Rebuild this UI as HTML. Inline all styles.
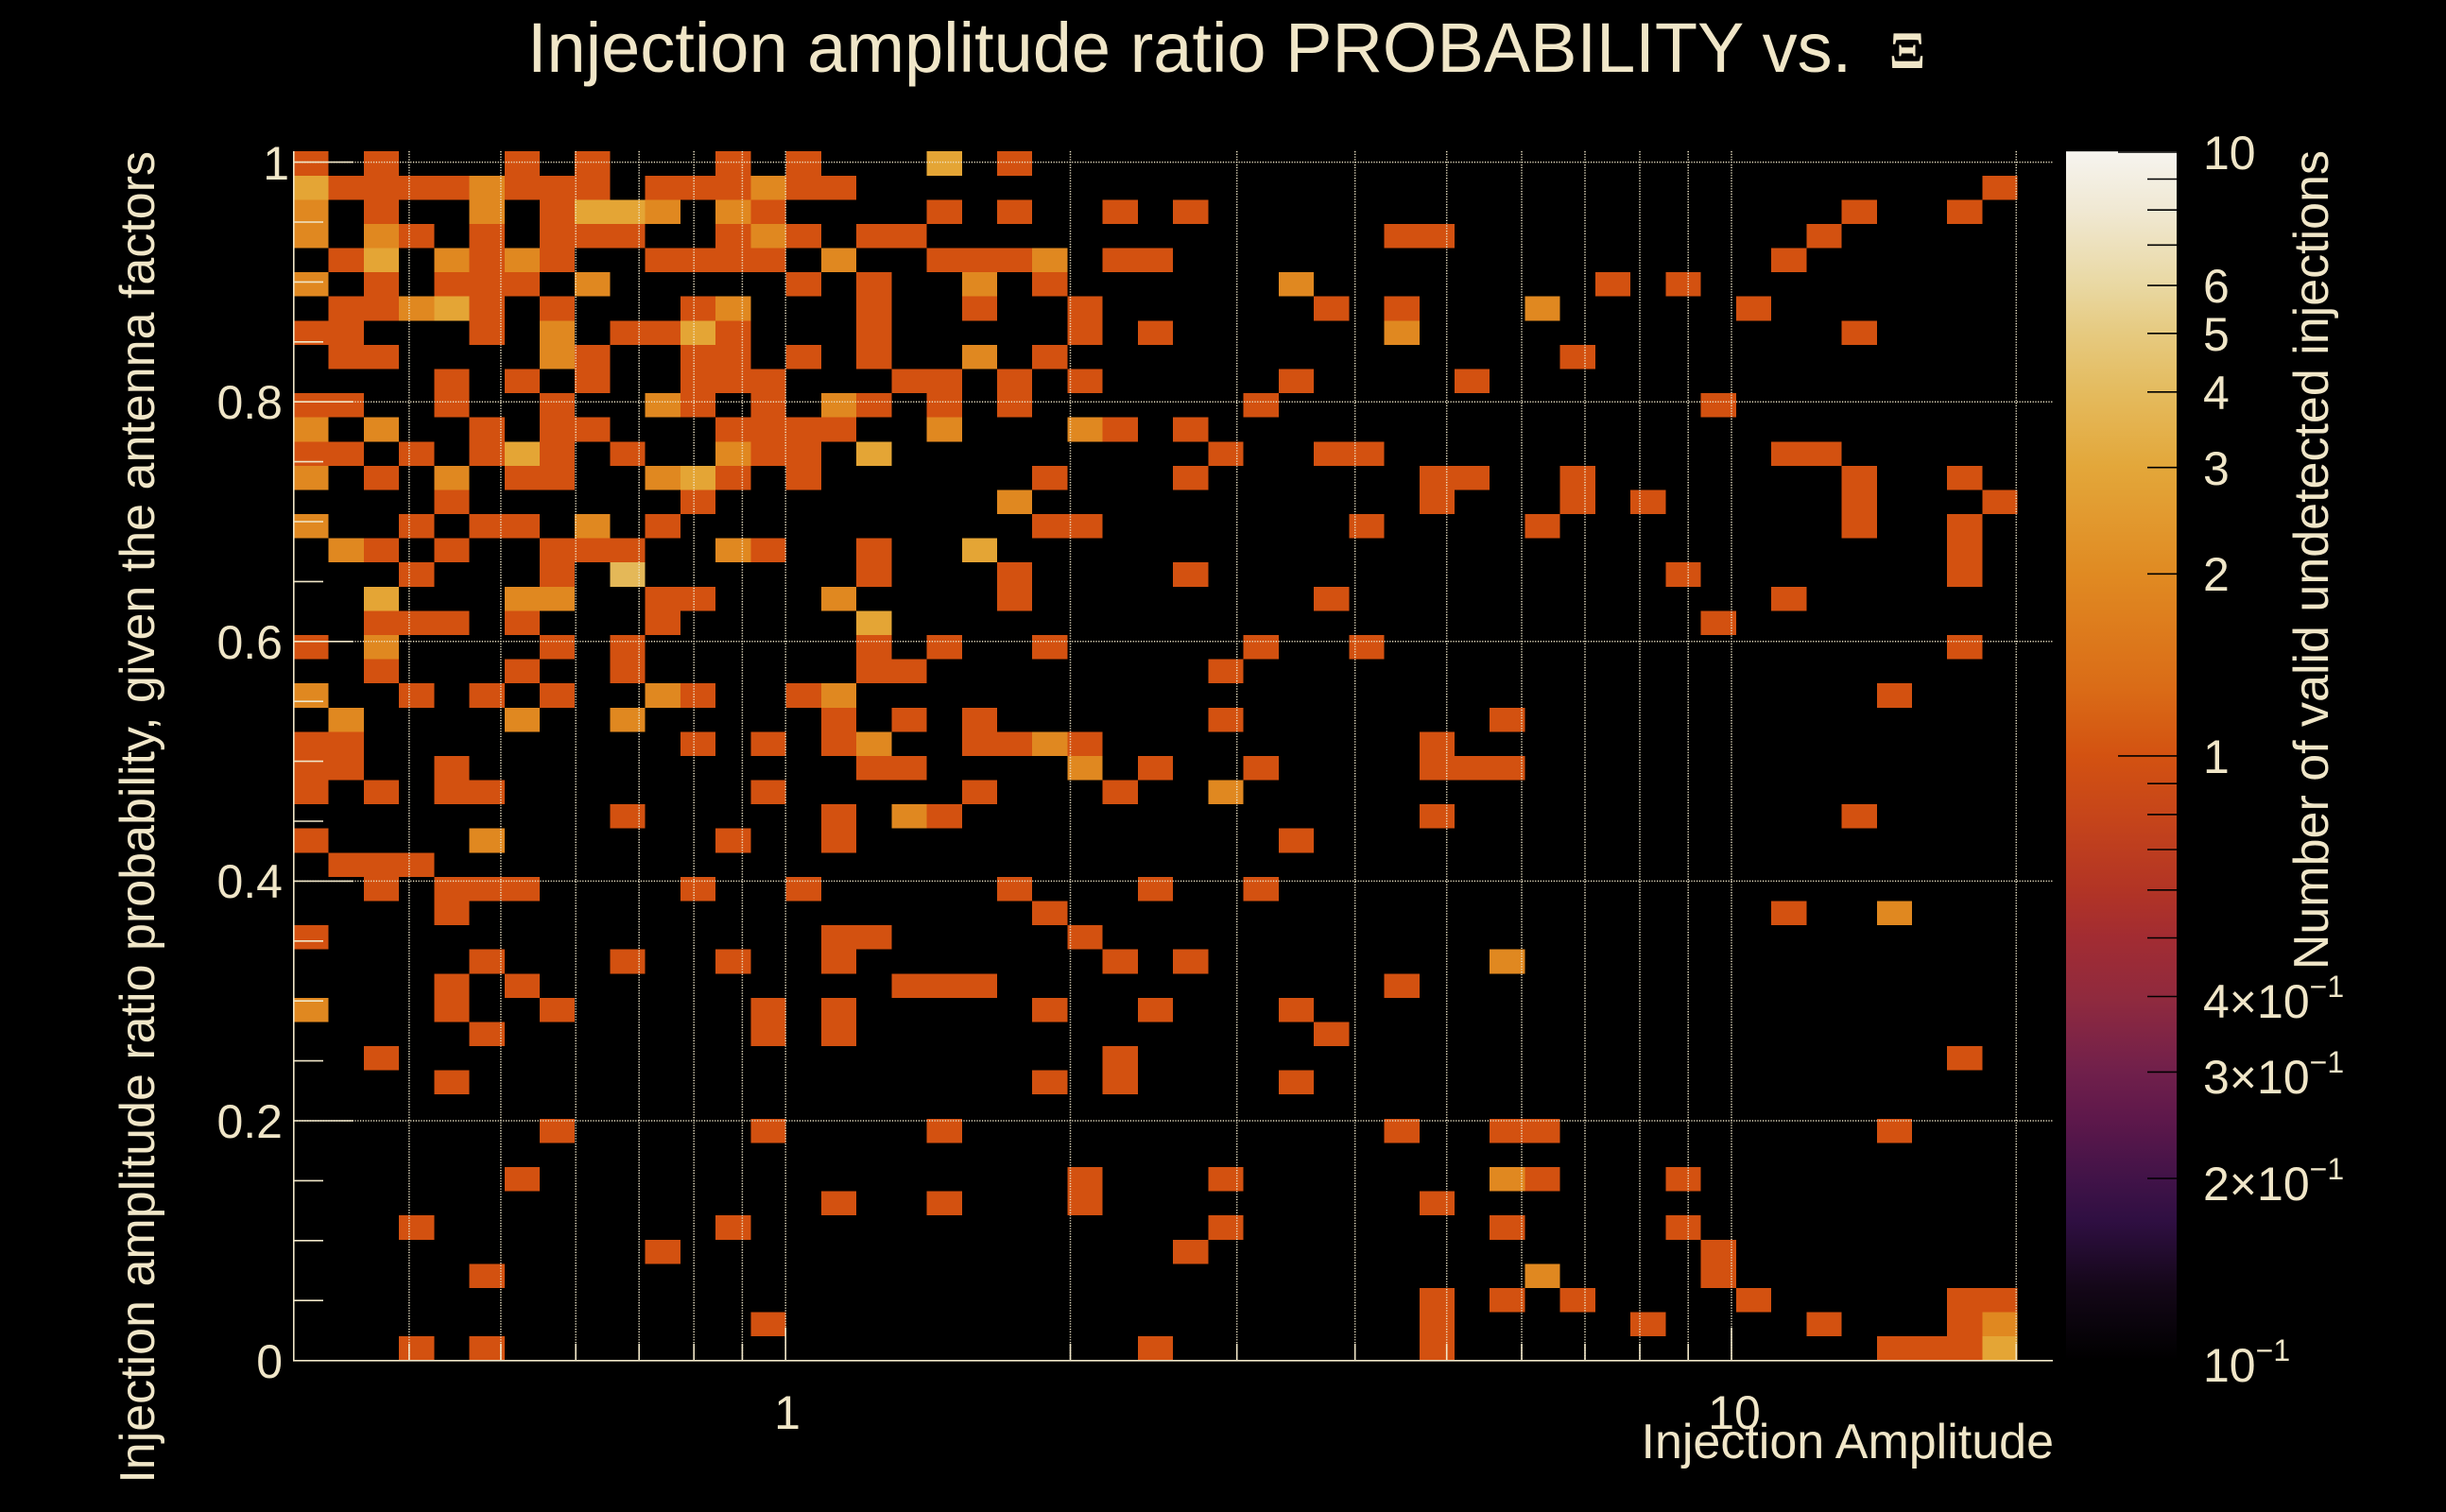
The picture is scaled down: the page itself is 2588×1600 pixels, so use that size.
<!DOCTYPE html>
<html>
<head>
<meta charset="utf-8">
<style>
html,body{margin:0;padding:0;background:#000;}
svg{display:block;}
.t{fill:#f0e6c8;font-family:"Liberation Sans",Arial,sans-serif;}
.d{fill:#d35110;}
.m{fill:#e08820;}
.y{fill:#e4a535;}
.p{fill:#e4b858;}
.grid{stroke:#f0e6c8;stroke-width:1.5;stroke-dasharray:1.2 1.6;fill:none;}
.ax{stroke:#f0e6c8;stroke-width:1.6;fill:none;}
.cbt{stroke:#000;stroke-width:1.6;fill:none;}
</style>
</head>
<body>
<svg width="2588" height="1600" viewBox="0 0 2588 1600" xmlns="http://www.w3.org/2000/svg">
<defs>
<linearGradient id="cb" x1="0" y1="0" x2="0" y2="1">
<stop offset="0" stop-color="#f6f4ef"/>
<stop offset="0.05" stop-color="#f0e8d2"/>
<stop offset="0.111" stop-color="#e9d8a2"/>
<stop offset="0.15" stop-color="#e6ca80"/>
<stop offset="0.199" stop-color="#e4bb5e"/>
<stop offset="0.261" stop-color="#e3a73a"/>
<stop offset="0.35" stop-color="#e08a22"/>
<stop offset="0.443" stop-color="#da6c17"/>
<stop offset="0.5" stop-color="#d35211"/>
<stop offset="0.55" stop-color="#c6451a"/>
<stop offset="0.611" stop-color="#b23425"/>
<stop offset="0.65" stop-color="#a22c32"/>
<stop offset="0.70" stop-color="#902a3e"/>
<stop offset="0.76" stop-color="#71204b"/>
<stop offset="0.80" stop-color="#5e184b"/>
<stop offset="0.85" stop-color="#411348"/>
<stop offset="0.885" stop-color="#2f0f42"/>
<stop offset="0.94" stop-color="#140718"/>
<stop offset="1" stop-color="#000000"/>
</linearGradient>
</defs>
<rect x="0" y="0" width="2588" height="1600" fill="#000"/>

<!-- Title -->
<text class="t" x="558" y="76" font-size="74">Injection amplitude ratio PROBABILITY vs.</text>
<text x="1999" y="72" font-size="56" font-weight="bold" fill="#f0e6c8" font-family="'Liberation Serif',serif">Ξ</text>

<!-- Heatmap cells -->
<g transform="translate(310.4 160.2) scale(37.23 25.59)" shape-rendering="crispEdges">
<path class="d" d="
M0 0h1v1h-1zM2 0h1v1h-1zM6 0h1v1h-1zM8 0h1v1h-1zM12 0h1v1h-1zM14 0h1v1h-1zM20 0h1v1h-1z
M1 1h1v1h-1zM2 1h1v1h-1zM3 1h1v1h-1zM4 1h1v1h-1zM6 1h1v1h-1zM7 1h1v1h-1zM8 1h1v1h-1zM10 1h1v1h-1zM11 1h1v1h-1zM12 1h1v1h-1zM14 1h1v1h-1zM15 1h1v1h-1zM48 1h1v1h-1z
M2 2h1v1h-1zM7 2h1v1h-1zM13 2h1v1h-1zM18 2h1v1h-1zM20 2h1v1h-1zM23 2h1v1h-1zM25 2h1v1h-1zM44 2h1v1h-1zM47 2h1v1h-1z
M3 3h1v1h-1zM5 3h1v1h-1zM7 3h1v1h-1zM8 3h1v1h-1zM9 3h1v1h-1zM12 3h1v1h-1zM14 3h1v1h-1zM16 3h1v1h-1zM17 3h1v1h-1zM31 3h1v1h-1zM32 3h1v1h-1zM43 3h1v1h-1z
M1 4h1v1h-1zM5 4h1v1h-1zM7 4h1v1h-1zM10 4h1v1h-1zM11 4h1v1h-1zM12 4h1v1h-1zM13 4h1v1h-1zM18 4h1v1h-1zM19 4h1v1h-1zM20 4h1v1h-1zM23 4h1v1h-1zM24 4h1v1h-1zM42 4h1v1h-1z
M2 5h1v1h-1zM4 5h1v1h-1zM5 5h1v1h-1zM6 5h1v1h-1zM14 5h1v1h-1zM16 5h1v1h-1zM21 5h1v1h-1zM37 5h1v1h-1zM39 5h1v1h-1z
M1 6h1v1h-1zM2 6h1v1h-1zM5 6h1v1h-1zM7 6h1v1h-1zM11 6h1v1h-1zM16 6h1v1h-1zM19 6h1v1h-1zM22 6h1v1h-1zM29 6h1v1h-1zM31 6h1v1h-1zM41 6h1v1h-1z
M0 7h1v1h-1zM1 7h1v1h-1zM5 7h1v1h-1zM9 7h1v1h-1zM10 7h1v1h-1zM12 7h1v1h-1zM16 7h1v1h-1zM22 7h1v1h-1zM24 7h1v1h-1zM44 7h1v1h-1z
M1 8h1v1h-1zM2 8h1v1h-1zM8 8h1v1h-1zM11 8h1v1h-1zM12 8h1v1h-1zM14 8h1v1h-1zM16 8h1v1h-1zM21 8h1v1h-1zM36 8h1v1h-1z
M4 9h1v1h-1zM6 9h1v1h-1zM8 9h1v1h-1zM11 9h1v1h-1zM12 9h1v1h-1zM13 9h1v1h-1zM17 9h1v1h-1zM18 9h1v1h-1zM20 9h1v1h-1zM22 9h1v1h-1zM28 9h1v1h-1zM33 9h1v1h-1z
M0 10h1v1h-1zM1 10h1v1h-1zM4 10h1v1h-1zM7 10h1v1h-1zM11 10h1v1h-1zM13 10h1v1h-1zM16 10h1v1h-1zM18 10h1v1h-1zM20 10h1v1h-1zM27 10h1v1h-1zM40 10h1v1h-1z
M5 11h1v1h-1zM7 11h1v1h-1zM8 11h1v1h-1zM12 11h1v1h-1zM13 11h1v1h-1zM14 11h1v1h-1zM15 11h1v1h-1zM23 11h1v1h-1zM25 11h1v1h-1z
M0 12h1v1h-1zM1 12h1v1h-1zM3 12h1v1h-1zM5 12h1v1h-1zM7 12h1v1h-1zM9 12h1v1h-1zM13 12h1v1h-1zM14 12h1v1h-1zM26 12h1v1h-1zM29 12h1v1h-1zM30 12h1v1h-1zM42 12h1v1h-1zM43 12h1v1h-1z
M2 13h1v1h-1zM6 13h1v1h-1zM7 13h1v1h-1zM12 13h1v1h-1zM14 13h1v1h-1zM21 13h1v1h-1zM25 13h1v1h-1zM32 13h1v1h-1zM33 13h1v1h-1zM36 13h1v1h-1zM44 13h1v1h-1zM47 13h1v1h-1z
M4 14h1v1h-1zM11 14h1v1h-1zM32 14h1v1h-1zM36 14h1v1h-1zM38 14h1v1h-1zM44 14h1v1h-1zM48 14h1v1h-1z
M3 15h1v1h-1zM5 15h1v1h-1zM6 15h1v1h-1zM10 15h1v1h-1zM21 15h1v1h-1zM22 15h1v1h-1zM30 15h1v1h-1zM35 15h1v1h-1zM44 15h1v1h-1zM47 15h1v1h-1z
M2 16h1v1h-1zM4 16h1v1h-1zM7 16h1v1h-1zM8 16h1v1h-1zM9 16h1v1h-1zM13 16h1v1h-1zM16 16h1v1h-1zM47 16h1v1h-1z
M3 17h1v1h-1zM7 17h1v1h-1zM16 17h1v1h-1zM20 17h1v1h-1zM25 17h1v1h-1zM39 17h1v1h-1zM47 17h1v1h-1z
M10 18h1v1h-1zM11 18h1v1h-1zM20 18h1v1h-1zM29 18h1v1h-1zM42 18h1v1h-1z
M2 19h1v1h-1zM3 19h1v1h-1zM4 19h1v1h-1zM6 19h1v1h-1zM10 19h1v1h-1zM40 19h1v1h-1z
M0 20h1v1h-1zM7 20h1v1h-1zM9 20h1v1h-1zM16 20h1v1h-1zM18 20h1v1h-1zM21 20h1v1h-1zM27 20h1v1h-1zM30 20h1v1h-1zM47 20h1v1h-1z
M2 21h1v1h-1zM6 21h1v1h-1zM9 21h1v1h-1zM16 21h1v1h-1zM17 21h1v1h-1zM26 21h1v1h-1z
M3 22h1v1h-1zM5 22h1v1h-1zM7 22h1v1h-1zM11 22h1v1h-1zM14 22h1v1h-1zM45 22h1v1h-1z
M15 23h1v1h-1zM17 23h1v1h-1zM19 23h1v1h-1zM26 23h1v1h-1zM34 23h1v1h-1z
M0 24h1v1h-1zM1 24h1v1h-1zM11 24h1v1h-1zM13 24h1v1h-1zM15 24h1v1h-1zM19 24h1v1h-1zM20 24h1v1h-1zM22 24h1v1h-1zM32 24h1v1h-1z
M0 25h1v1h-1zM1 25h1v1h-1zM4 25h1v1h-1zM16 25h1v1h-1zM17 25h1v1h-1zM24 25h1v1h-1zM27 25h1v1h-1zM32 25h1v1h-1zM33 25h1v1h-1zM34 25h1v1h-1z
M0 26h1v1h-1zM2 26h1v1h-1zM4 26h1v1h-1zM5 26h1v1h-1zM13 26h1v1h-1zM19 26h1v1h-1zM23 26h1v1h-1z
M9 27h1v1h-1zM15 27h1v1h-1zM18 27h1v1h-1zM32 27h1v1h-1zM44 27h1v1h-1z
M0 28h1v1h-1zM12 28h1v1h-1zM15 28h1v1h-1zM28 28h1v1h-1z
M1 29h1v1h-1zM2 29h1v1h-1zM3 29h1v1h-1z
M2 30h1v1h-1zM4 30h1v1h-1zM5 30h1v1h-1zM6 30h1v1h-1zM11 30h1v1h-1zM14 30h1v1h-1zM20 30h1v1h-1zM24 30h1v1h-1zM27 30h1v1h-1z
M4 31h1v1h-1zM21 31h1v1h-1zM42 31h1v1h-1z
M0 32h1v1h-1zM15 32h1v1h-1zM16 32h1v1h-1zM22 32h1v1h-1z
M5 33h1v1h-1zM9 33h1v1h-1zM12 33h1v1h-1zM15 33h1v1h-1zM23 33h1v1h-1zM25 33h1v1h-1z
M4 34h1v1h-1zM6 34h1v1h-1zM17 34h1v1h-1zM18 34h1v1h-1zM19 34h1v1h-1zM31 34h1v1h-1z
M4 35h1v1h-1zM7 35h1v1h-1zM13 35h1v1h-1zM15 35h1v1h-1zM21 35h1v1h-1zM24 35h1v1h-1zM28 35h1v1h-1z
M5 36h1v1h-1zM13 36h1v1h-1zM15 36h1v1h-1zM29 36h1v1h-1z
M2 37h1v1h-1zM23 37h1v1h-1zM47 37h1v1h-1z
M4 38h1v1h-1zM21 38h1v1h-1zM23 38h1v1h-1zM28 38h1v1h-1z
M7 40h1v1h-1zM13 40h1v1h-1zM18 40h1v1h-1zM31 40h1v1h-1zM34 40h1v1h-1zM35 40h1v1h-1zM45 40h1v1h-1z
M6 42h1v1h-1zM22 42h1v1h-1zM26 42h1v1h-1zM35 42h1v1h-1zM39 42h1v1h-1z
M15 43h1v1h-1zM18 43h1v1h-1zM22 43h1v1h-1zM32 43h1v1h-1z
M3 44h1v1h-1zM12 44h1v1h-1zM26 44h1v1h-1zM34 44h1v1h-1zM39 44h1v1h-1z
M10 45h1v1h-1zM25 45h1v1h-1zM40 45h1v1h-1z
M5 46h1v1h-1zM40 46h1v1h-1z
M32 47h1v1h-1zM34 47h1v1h-1zM36 47h1v1h-1zM41 47h1v1h-1zM47 47h1v1h-1zM48 47h1v1h-1z
M13 48h1v1h-1zM32 48h1v1h-1zM38 48h1v1h-1zM43 48h1v1h-1zM47 48h1v1h-1z
M3 49h1v1h-1zM5 49h1v1h-1zM24 49h1v1h-1zM32 49h1v1h-1zM45 49h1v1h-1zM46 49h1v1h-1zM47 49h1v1h-1z
"/>
<path class="m" d="
M5 1h1v1h-1zM13 1h1v1h-1z
M0 2h1v1h-1zM5 2h1v1h-1zM10 2h1v1h-1zM12 2h1v1h-1z
M0 3h1v1h-1zM2 3h1v1h-1zM13 3h1v1h-1z
M4 4h1v1h-1zM6 4h1v1h-1zM15 4h1v1h-1zM21 4h1v1h-1z
M0 5h1v1h-1zM8 5h1v1h-1zM19 5h1v1h-1zM28 5h1v1h-1z
M3 6h1v1h-1zM12 6h1v1h-1zM35 6h1v1h-1z
M7 7h1v1h-1zM31 7h1v1h-1z
M7 8h1v1h-1zM19 8h1v1h-1z
M10 10h1v1h-1zM15 10h1v1h-1z
M0 11h1v1h-1zM2 11h1v1h-1zM18 11h1v1h-1zM22 11h1v1h-1z
M12 12h1v1h-1z
M0 13h1v1h-1zM4 13h1v1h-1zM10 13h1v1h-1z
M20 14h1v1h-1z
M0 15h1v1h-1zM8 15h1v1h-1z
M1 16h1v1h-1zM12 16h1v1h-1z
M6 18h1v1h-1zM7 18h1v1h-1zM15 18h1v1h-1z
M2 20h1v1h-1z
M0 22h1v1h-1zM10 22h1v1h-1zM15 22h1v1h-1z
M1 23h1v1h-1zM6 23h1v1h-1zM9 23h1v1h-1z
M16 24h1v1h-1zM21 24h1v1h-1z
M22 25h1v1h-1z
M26 26h1v1h-1z
M17 27h1v1h-1z
M5 28h1v1h-1z
M45 31h1v1h-1z
M34 33h1v1h-1z
M0 35h1v1h-1z
M34 42h1v1h-1z
M35 46h1v1h-1z
M48 48h1v1h-1z
"/>
<path class="y" d="
M18 0h1v1h-1z
M0 1h1v1h-1z
M8 2h1v1h-1zM9 2h1v1h-1z
M2 4h1v1h-1z
M4 6h1v1h-1z
M11 7h1v1h-1z
M6 12h1v1h-1zM16 12h1v1h-1z
M11 13h1v1h-1z
M19 16h1v1h-1z
M2 18h1v1h-1z
M16 19h1v1h-1z
M48 49h1v1h-1z
"/>
<path class="p" d="M9 17h1v1h-1z"/>
</g>

<!-- Grid lines -->
<g class="grid">
<line x1="311" y1="171.6" x2="2172" y2="171.6"/>
<line x1="311" y1="425.2" x2="2172" y2="425.2"/>
<line x1="311" y1="678.8" x2="2172" y2="678.8"/>
<line x1="311" y1="932.4" x2="2172" y2="932.4"/>
<line x1="311" y1="1186" x2="2172" y2="1186"/>
<line x1="432.9" y1="160" x2="432.9" y2="1440"/>
<line x1="529.9" y1="160" x2="529.9" y2="1440"/>
<line x1="609.2" y1="160" x2="609.2" y2="1440"/>
<line x1="676.2" y1="160" x2="676.2" y2="1440"/>
<line x1="734.2" y1="160" x2="734.2" y2="1440"/>
<line x1="785.4" y1="160" x2="785.4" y2="1440"/>
<line x1="831.2" y1="160" x2="831.2" y2="1440"/>
<line x1="1132.5" y1="160" x2="1132.5" y2="1440"/>
<line x1="1308.7" y1="160" x2="1308.7" y2="1440"/>
<line x1="1433.7" y1="160" x2="1433.7" y2="1440"/>
<line x1="1530.7" y1="160" x2="1530.7" y2="1440"/>
<line x1="1610" y1="160" x2="1610" y2="1440"/>
<line x1="1677" y1="160" x2="1677" y2="1440"/>
<line x1="1735" y1="160" x2="1735" y2="1440"/>
<line x1="1786.2" y1="160" x2="1786.2" y2="1440"/>
<line x1="1832" y1="160" x2="1832" y2="1440"/>
<line x1="2133.3" y1="160" x2="2133.3" y2="1440"/>
</g>

<!-- Axes -->
<g class="ax">
<line x1="310.8" y1="160" x2="310.8" y2="1440.4"/>
<line x1="310" y1="1439.8" x2="2172" y2="1439.8"/>
<!-- y ticks -->
<line x1="311" y1="171.6" x2="374" y2="171.6"/>
<line x1="311" y1="235" x2="342" y2="235"/>
<line x1="311" y1="298.4" x2="342" y2="298.4"/>
<line x1="311" y1="361.8" x2="342" y2="361.8"/>
<line x1="311" y1="425.2" x2="374" y2="425.2"/>
<line x1="311" y1="488.6" x2="342" y2="488.6"/>
<line x1="311" y1="552" x2="342" y2="552"/>
<line x1="311" y1="615.4" x2="342" y2="615.4"/>
<line x1="311" y1="678.8" x2="374" y2="678.8"/>
<line x1="311" y1="742.2" x2="342" y2="742.2"/>
<line x1="311" y1="805.6" x2="342" y2="805.6"/>
<line x1="311" y1="869" x2="342" y2="869"/>
<line x1="311" y1="932.4" x2="374" y2="932.4"/>
<line x1="311" y1="995.8" x2="342" y2="995.8"/>
<line x1="311" y1="1059.2" x2="342" y2="1059.2"/>
<line x1="311" y1="1122.6" x2="342" y2="1122.6"/>
<line x1="311" y1="1186" x2="374" y2="1186"/>
<line x1="311" y1="1249.4" x2="342" y2="1249.4"/>
<line x1="311" y1="1312.8" x2="342" y2="1312.8"/>
<line x1="311" y1="1376.2" x2="342" y2="1376.2"/>
<!-- x ticks -->
<line x1="432.9" y1="1440" x2="432.9" y2="1422"/>
<line x1="529.9" y1="1440" x2="529.9" y2="1422"/>
<line x1="609.2" y1="1440" x2="609.2" y2="1422"/>
<line x1="676.2" y1="1440" x2="676.2" y2="1422"/>
<line x1="734.2" y1="1440" x2="734.2" y2="1422"/>
<line x1="785.4" y1="1440" x2="785.4" y2="1422"/>
<line x1="831.2" y1="1440" x2="831.2" y2="1405"/>
<line x1="1132.5" y1="1440" x2="1132.5" y2="1422"/>
<line x1="1308.7" y1="1440" x2="1308.7" y2="1422"/>
<line x1="1433.7" y1="1440" x2="1433.7" y2="1422"/>
<line x1="1530.7" y1="1440" x2="1530.7" y2="1422"/>
<line x1="1610" y1="1440" x2="1610" y2="1422"/>
<line x1="1677" y1="1440" x2="1677" y2="1422"/>
<line x1="1735" y1="1440" x2="1735" y2="1422"/>
<line x1="1786.2" y1="1440" x2="1786.2" y2="1422"/>
<line x1="1832" y1="1440" x2="1832" y2="1405"/>
<line x1="2133.3" y1="1440" x2="2133.3" y2="1422"/>
</g>

<!-- Y axis labels -->
<g class="t" font-size="50" text-anchor="end">
<text x="306" y="190">1</text>
<text x="299" y="443">0.8</text>
<text x="299" y="697">0.6</text>
<text x="299" y="950">0.4</text>
<text x="299" y="1204">0.2</text>
<text x="299" y="1458">0</text>
</g>

<!-- X axis labels -->
<g class="t" font-size="50" text-anchor="middle">
<text x="833" y="1512">1</text>
<text x="1835" y="1512">10</text>
</g>

<!-- Axis titles -->
<text class="t" font-size="52" text-anchor="end" x="2173" y="1543">Injection Amplitude</text>
<text class="t" font-size="52" text-anchor="end" transform="translate(163 160) rotate(-90)">Injection amplitude ratio probability, given the antenna factors</text>

<!-- Colorbar -->
<rect x="2186" y="160.2" width="117" height="1279.4" fill="url(#cb)"/>
<g class="cbt">
<line x1="2241" y1="161" x2="2303" y2="161"/>
<line x1="2272" y1="189.5" x2="2303" y2="189.5"/>
<line x1="2272" y1="222.2" x2="2303" y2="222.2"/>
<line x1="2272" y1="259.3" x2="2303" y2="259.3"/>
<line x1="2272" y1="302.1" x2="2303" y2="302.1"/>
<line x1="2272" y1="352.8" x2="2303" y2="352.8"/>
<line x1="2272" y1="414.8" x2="2303" y2="414.8"/>
<line x1="2272" y1="494.7" x2="2303" y2="494.7"/>
<line x1="2272" y1="607.3" x2="2303" y2="607.3"/>
<line x1="2241" y1="799.9" x2="2303" y2="799.9"/>
<line x1="2272" y1="829.2" x2="2303" y2="829.2"/>
<line x1="2272" y1="861.9" x2="2303" y2="861.9"/>
<line x1="2272" y1="899" x2="2303" y2="899"/>
<line x1="2272" y1="941.8" x2="2303" y2="941.8"/>
<line x1="2272" y1="992.5" x2="2303" y2="992.5"/>
<line x1="2272" y1="1054.5" x2="2303" y2="1054.5"/>
<line x1="2272" y1="1134.4" x2="2303" y2="1134.4"/>
<line x1="2272" y1="1247" x2="2303" y2="1247"/>
</g>

<!-- Colorbar labels -->
<g class="t" font-size="50">
<text x="2331" y="179">10</text>
<text x="2331" y="320">6</text>
<text x="2331" y="371">5</text>
<text x="2331" y="433">4</text>
<text x="2331" y="513">3</text>
<text x="2331" y="625">2</text>
<text x="2331" y="818">1</text>
<text x="2331" y="1077">4×10<tspan dy="-22" font-size="32">−1</tspan></text>
<text x="2331" y="1157">3×10<tspan dy="-22" font-size="32">−1</tspan></text>
<text x="2331" y="1270">2×10<tspan dy="-22" font-size="32">−1</tspan></text>
<text x="2331" y="1462">10<tspan dy="-22" font-size="32">−1</tspan></text>
</g>

<text class="t" font-size="52" text-anchor="end" transform="translate(2463 159) rotate(-90)">Number of valid undetected injections</text>
</svg>
</body>
</html>
